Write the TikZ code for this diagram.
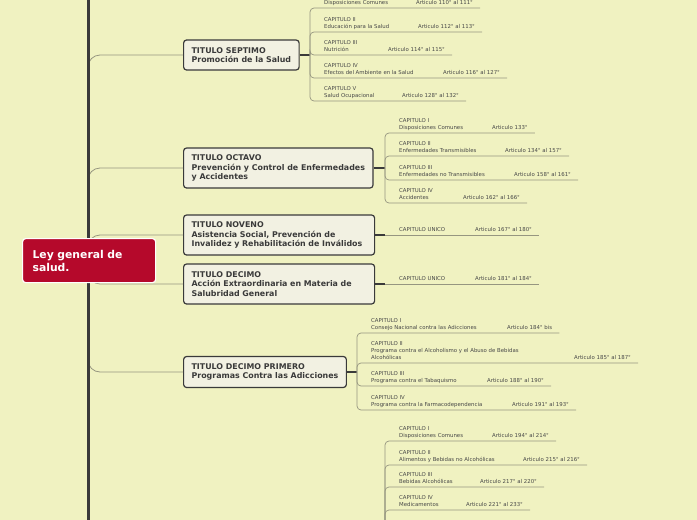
\documentclass[tikz,border=0pt]{standalone}
\usepackage{fontspec}
\newfontfamily\mapfont{DejaVu Sans}
\definecolor{fondo}{RGB}{240,242,193}
\definecolor{raiz}{RGB}{181,9,43}
\definecolor{caja}{RGB}{242,241,226}
\definecolor{borde}{RGB}{58,58,58}
\definecolor{rama}{RGB}{150,150,128}
\definecolor{letra}{RGB}{72,72,72}
\tikzset{
	raizbox/.style={draw=white,fill=raiz,line width=1.2pt,rounded corners=3pt,text=white,font=\mapfont\fontsize{10.8}{13}\selectfont\bfseries,align=left,text width=113pt,inner xsep=10pt,minimum height=44pt,anchor=north west},
	titulo/.style={draw=borde,fill=caja,line width=1.2pt,rounded corners=3pt,text=borde,font=\mapfont\fontsize{7.9}{9.7}\selectfont\bfseries,align=left,inner xsep=8pt,inner ysep=4pt,anchor=west},
	capbox/.style={anchor=south west,inner xsep=0pt,inner ysep=1.6pt,text=letra,font=\mapfont\fontsize{5.4}{7}\selectfont,align=left,execute at end node=\strut},
	artbox/.style={capbox},
	rama/.style={draw=rama,line width=0.8pt,rounded corners=12pt},
	sub/.style={draw=rama,line width=0.7pt,rounded corners=4pt},
	eje/.style={draw=borde,line width=1.2pt},
	tronco/.style={draw=borde,line width=3pt}
}
\begin{document}
\begin{tikzpicture}[x=1pt,y=-1pt]
	\useasboundingbox (0,0) rectangle (697,520);
	\clip (0,0) rectangle (697,520);
	\fill[fondo] (0,0) rectangle (697,520);
	\node[titulo,minimum height=30pt] (septimo) at (183,55) {TITULO SEPTIMO\\Promoción de la Salud};
	\node[titulo,minimum height=40pt] (octavo) at (183,168) {TITULO OCTAVO\\Prevención y Control de Enfermedades\\y Accidentes};
	\node[titulo,minimum height=40pt,text width=175pt] (noveno) at (183,235) {TITULO NOVENO\\Asistencia Social, Prevención de\\Invalidez y Rehabilitación de Inválidos};
	\node[titulo,minimum height=40pt,text width=175pt] (decimo) at (183,284) {TITULO DECIMO\\Acción Extraordinaria en Materia de\\Salubridad General};
	\node[titulo,minimum height=31pt] (primero) at (183,372) {TITULO DECIMO PRIMERO\\Programas Contra las Adicciones};
	\coordinate (h7) at (310,55);
	\coordinate (h8) at (385,168);
	\coordinate (h9) at (385,235);
	\coordinate (h10) at (385,284);
	\coordinate (h11) at (357,372);
	\coordinate (h12) at (385,545);
	\node[capbox] (s1) at (324,8) {Disposiciones Comunes};
	\node[artbox] (s1a) at (416,8) {Articulo 110° al 111°};
	\node[capbox] (s2) at (324,32) {CAPITULO II\\Educación para la Salud};
	\node[artbox] (s2a) at (418,32) {Articulo 112° al 113°};
	\node[capbox] (s3) at (324,55) {CAPITULO III\\Nutrición};
	\node[artbox] (s3a) at (388,55) {Articulo 114° al 115°};
	\node[capbox] (s4) at (324,78) {CAPITULO IV\\Efectos del Ambiente en la Salud};
	\node[artbox] (s4a) at (443,78) {Articulo 116° al 127°};
	\node[capbox] (s5) at (324,101) {CAPITULO V\\Salud Ocupacional};
	\node[artbox] (s5a) at (402,101) {Articulo 128° al 132°};
	\node[capbox] (o1) at (399,133) {CAPITULO I\\Disposiciones Comunes};
	\node[artbox] (o1a) at (492,133) {Articulo 133°};
	\node[capbox] (o2) at (399,156) {CAPITULO II\\Enfermedades Transmisibles};
	\node[artbox] (o2a) at (505,156) {Articulo 134° al 157°};
	\node[capbox] (o3) at (399,180) {CAPITULO III\\Enfermedades no Transmisibles};
	\node[artbox] (o3a) at (514,180) {Articulo 158° al 161°};
	\node[capbox] (o4) at (399,203) {CAPITULO IV\\Accidentes};
	\node[artbox] (o4a) at (463,203) {Articulo 162° al 166°};
	\node[capbox] (n1) at (399,235) {CAPITULO UNICO};
	\node[artbox] (n1a) at (475,235) {Articulo 167° al 180°};
	\node[capbox] (d1) at (399,284) {CAPITULO UNICO};
	\node[artbox] (d1a) at (475,284) {Articulo 181° al 184°};
	\node[capbox] (p1) at (371,333) {CAPITULO I\\Consejo Nacional contra las Adicciones};
	\node[artbox] (p1a) at (507,333) {Articulo 184° bis};
	\node[capbox] (p2) at (371,363) {CAPITULO II\\Programa contra el Alcoholismo y el Abuso de Bebidas\\Alcohólicas};
	\node[artbox] (p2a) at (574,363) {Articulo 185° al 187°};
	\node[capbox] (p3) at (371,386) {CAPITULO III\\Programa contra el Tabaquismo};
	\node[artbox] (p3a) at (487,386) {Articulo 188° al 190°};
	\node[capbox] (p4) at (371,410) {CAPITULO IV\\Programa contra la Farmacodependencia};
	\node[artbox] (p4a) at (512,410) {Articulo 191° al 193°};
	\node[capbox] (b1) at (399,441) {CAPITULO I\\Disposiciones Comunes};
	\node[artbox] (b1a) at (492,441) {Articulo 194° al 214°};
	\node[capbox] (b2) at (399,465) {CAPITULO II\\Alimentos y Bebidas no Alcohólicas};
	\node[artbox] (b2a) at (523,465) {Articulo 215° al 216°};
	\node[capbox] (b3) at (399,487) {CAPITULO III\\Bebidas Alcohólicas};
	\node[artbox] (b3a) at (480,487) {Articulo 217° al 220°};
	\node[capbox] (b4) at (399,510) {CAPITULO IV\\Medicamentos};
	\node[artbox] (b4a) at (466,510) {Articulo 221° al 233°};
	\draw[eje] (septimo.east) -- (h7);
	\draw[eje] (octavo.east) -- (h8);
	\draw[eje] (noveno.east) -- (h9);
	\draw[eje] (decimo.east) -- (h10);
	\draw[eje] (primero.east) -- (h11);
	\draw[sub] (h7) |- ([xshift=7pt]s1a.south east);
	\draw[sub] (h7) |- ([xshift=7pt]s2a.south east);
	\draw[sub] (h7) |- ([xshift=7pt]s3a.south east);
	\draw[sub] (h7) |- ([xshift=7pt]s4a.south east);
	\draw[sub] (h7) |- ([xshift=7pt]s5a.south east);
	\draw[sub] (h8) |- ([xshift=7pt]o1a.south east);
	\draw[sub] (h8) |- ([xshift=7pt]o2a.south east);
	\draw[sub] (h8) |- ([xshift=7pt]o3a.south east);
	\draw[sub] (h8) |- ([xshift=7pt]o4a.south east);
	\draw[sub] (h9) -- ([xshift=7pt]n1a.south east);
	\draw[sub] (h10) -- ([xshift=7pt]d1a.south east);
	\draw[sub] (h11) |- ([xshift=7pt]p1a.south east);
	\draw[sub] (h11) |- ([xshift=7pt]p2a.south east);
	\draw[sub] (h11) |- ([xshift=7pt]p3a.south east);
	\draw[sub] (h11) |- ([xshift=7pt]p4a.south east);
	\draw[sub] (h12) |- ([xshift=7pt]b1a.south east);
	\draw[sub] (h12) |- ([xshift=7pt]b2a.south east);
	\draw[sub] (h12) |- ([xshift=7pt]b3a.south east);
	\draw[sub] (h12) |- ([xshift=7pt]b4a.south east);
	\coordinate (tr) at (88,260);
	\coordinate (ttop) at (88,0);
	\coordinate (tbot) at (88,520);
	\draw[rama] (tr) |- (septimo.west);
	\draw[rama] (tr) |- (octavo.west);
	\draw[rama] (tr) |- (noveno.west);
	\draw[rama] (tr) |- (decimo.west);
	\draw[rama] (tr) |- (primero.west);
	\draw[tronco] (ttop) -- (tbot);
	\node[raizbox] (raiz) at (22,238) {Ley general de\\salud.};
\end{tikzpicture}
\end{document}
